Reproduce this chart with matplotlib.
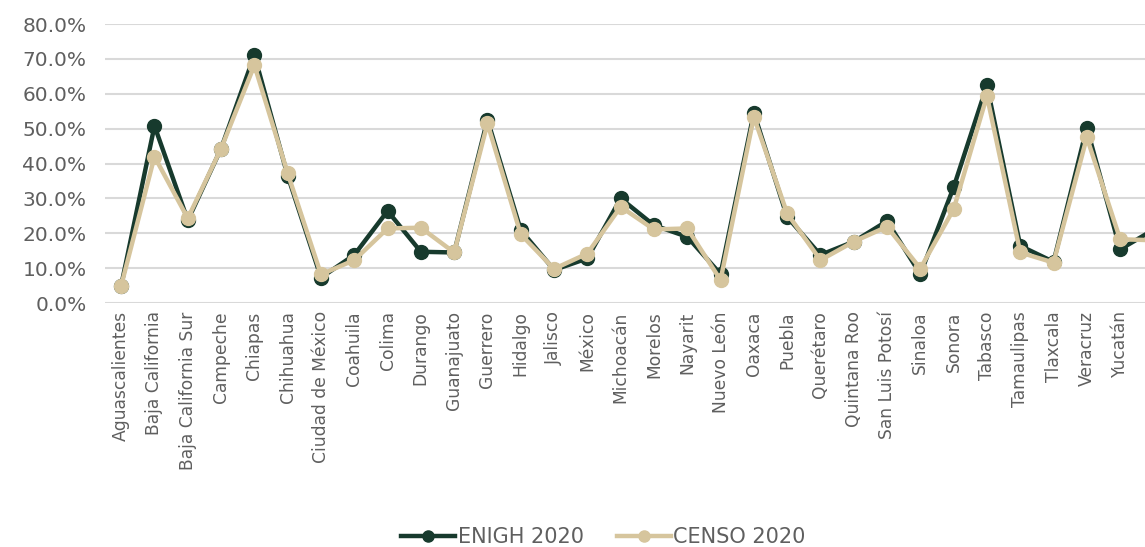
import matplotlib.pyplot as plt
from matplotlib.ticker import PercentFormatter

estados = ["Aguascalientes", "Baja California", "Baja California Sur", "Campeche",
           "Chiapas", "Chihuahua", "Ciudad de México", "Coahuila", "Colima",
           "Durango", "Guanajuato", "Guerrero", "Hidalgo", "Jalisco", "México",
           "Michoacán", "Morelos", "Nayarit", "Nuevo León", "Oaxaca", "Puebla",
           "Querétaro", "Quintana Roo", "San Luis Potosí", "Sinaloa", "Sonora",
           "Tabasco", "Tamaulipas", "Tlaxcala", "Veracruz", "Yucatán", "Zacatecas"]

enigh = [5.0, 50.8, 23.7, 44.3, 71.1, 36.5, 7.3, 13.8, 26.4, 14.7, 14.5, 52.6,
         20.9, 9.5, 12.8, 30.0, 22.3, 19.0, 8.3, 54.6, 24.7, 13.8, 17.6, 23.5,
         8.3, 33.2, 62.4, 16.4, 11.8, 50.3, 15.4, 21.0]

censo = [5.0, 42.0, 24.3, 44.3, 68.2, 37.2, 8.2, 12.3, 21.4, 21.6, 14.5, 51.5,
         19.7, 9.8, 14.2, 27.6, 21.1, 21.4, 6.6, 53.4, 25.7, 12.3, 17.6, 21.9,
         9.9, 26.9, 59.4, 14.5, 11.6, 47.5, 18.3, 18.0]

verde = "#173a2d"
beige = "#d6c59d"
gris = "#5f5f5f"

plt.rcParams['font.family'] = ['DejaVu Sans']

fig = plt.figure(figsize=(11.45, 5.47), dpi=100)
# axes run past the right edge, like the cropped original
ax = fig.add_axes([0.0913, 0.446, 0.9306, 0.510])

x = range(len(estados))
ax.plot(x, enigh, color=verde, lw=3.2, marker="o", ms=10, label="ENIGH 2020", zorder=3)
ax.plot(x, censo, color=beige, lw=3.2, marker="o", ms=10, label="CENSO 2020", zorder=4)

ax.set_xlim(-0.5, len(estados) - 0.5)
ax.set_ylim(0, 80)
ax.set_yticks(range(0, 81, 10))
ax.yaxis.set_major_formatter(PercentFormatter(decimals=1))
ax.set_xticks(list(x))
ax.set_xticklabels(estados, rotation=90)
ax.tick_params(axis="x", length=0, labelsize=12.3, labelcolor=gris, pad=6)
ax.tick_params(axis="y", length=0, labelsize=14.5, labelcolor=gris, pad=13)
ax.grid(axis="y", color="#d9d9d9", lw=1.5)
ax.set_axisbelow(True)
for s in ax.spines.values():
    s.set_visible(False)

fig.legend(loc="lower center", bbox_to_anchor=(0.527, -0.035), ncol=2, frameon=False,
           fontsize=15, labelcolor=gris, handlelength=2.6, handletextpad=0.1,
           columnspacing=1.6, markerscale=0.8)

fig.savefig("out.png", dpi=100)
